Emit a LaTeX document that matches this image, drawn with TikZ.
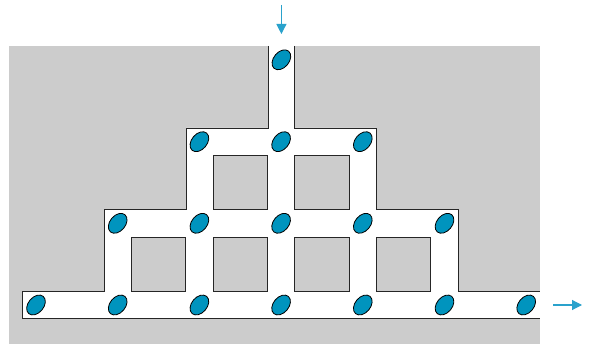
\documentclass[tikz,border=0pt]{standalone}
\usetikzlibrary{arrows.meta,shapes.geometric}
\definecolor{wallgray}{HTML}{CCCCCC}
\definecolor{dropblue}{HTML}{0094BE}
\definecolor{arrowblue}{HTML}{2AA2CC}
\tikzset{
  wall/.style={draw=black!85, line width=0.9pt, fill=wallgray},
  edge/.style={draw=black!85, line width=0.9pt},
  drop/.style={ellipse, draw=black, line width=0.8pt, fill=dropblue, minimum width=22.5pt, minimum height=15.5pt, inner sep=0pt, rotate=50},
  flow/.style={draw=arrowblue, line width=1.1pt, -{Triangle[length=10pt,width=10pt]}}
}
\begin{document}
\begin{tikzpicture}[x=1pt,y=-1pt]
\useasboundingbox (0,0) rectangle (592,344);
\fill[white] (0,0) rectangle (592,344);
% gray block
\fill[wallgray] (9,46) rectangle (540,344);
% channel
\fill[white] (268,46) -- (294.7,46) -- (294.7,128) -- (376.4,128) -- (376.4,209.7) -- (458.1,209.7) -- (458.1,291.3) -- (540,291.3) -- (540,318.6) -- (22.3,318.6) -- (22.3,291.3) -- (104.7,291.3) -- (104.7,209.7) -- (186,209.7) -- (186,128) -- (268,128) -- cycle;
\draw[edge] (268,46) -- (268,128) -- (186,128) -- (186,209.7) -- (104.7,209.7) -- (104.7,291.3) -- (22.3,291.3) -- (22.3,318.6) -- (540,318.6);
\draw[edge] (294.7,46) -- (294.7,128) -- (376.4,128) -- (376.4,209.7) -- (458.1,209.7) -- (458.1,291.3) -- (540,291.3);
% inner squares
\foreach \k in {2,3} {
  \path[wall] ({22.3+\k*81.7+27.3},155.3) rectangle ({22.3+(\k+1)*81.7},209.7);
}
\foreach \k in {1,2,3,4} {
  \path[wall] ({22.3+\k*81.7+27.3},237) rectangle ({22.3+(\k+1)*81.7},291.3);
}
% drops
\node[drop] (d03) at (281.4,59.8) {};
\foreach \k in {2,3,4} { \node[drop] (d1\k) at ({36+\k*81.7},141.7) {}; }
\foreach \k in {1,2,3,4,5} { \node[drop] (d2\k) at ({36+\k*81.7},223.3) {}; }
\foreach \k in {0,1,2,3,4,5,6} { \node[drop] (d3\k) at ({36+\k*81.7},305) {}; }
% flow arrows
\coordinate (inA) at (281.4,5);
\coordinate (inB) at (281.4,34);
\coordinate (outA) at (553,305);
\coordinate (outB) at (582,305);
\draw[flow] (inA) -- (inB);
\draw[flow] (outA) -- (outB);
\end{tikzpicture}
\end{document}
